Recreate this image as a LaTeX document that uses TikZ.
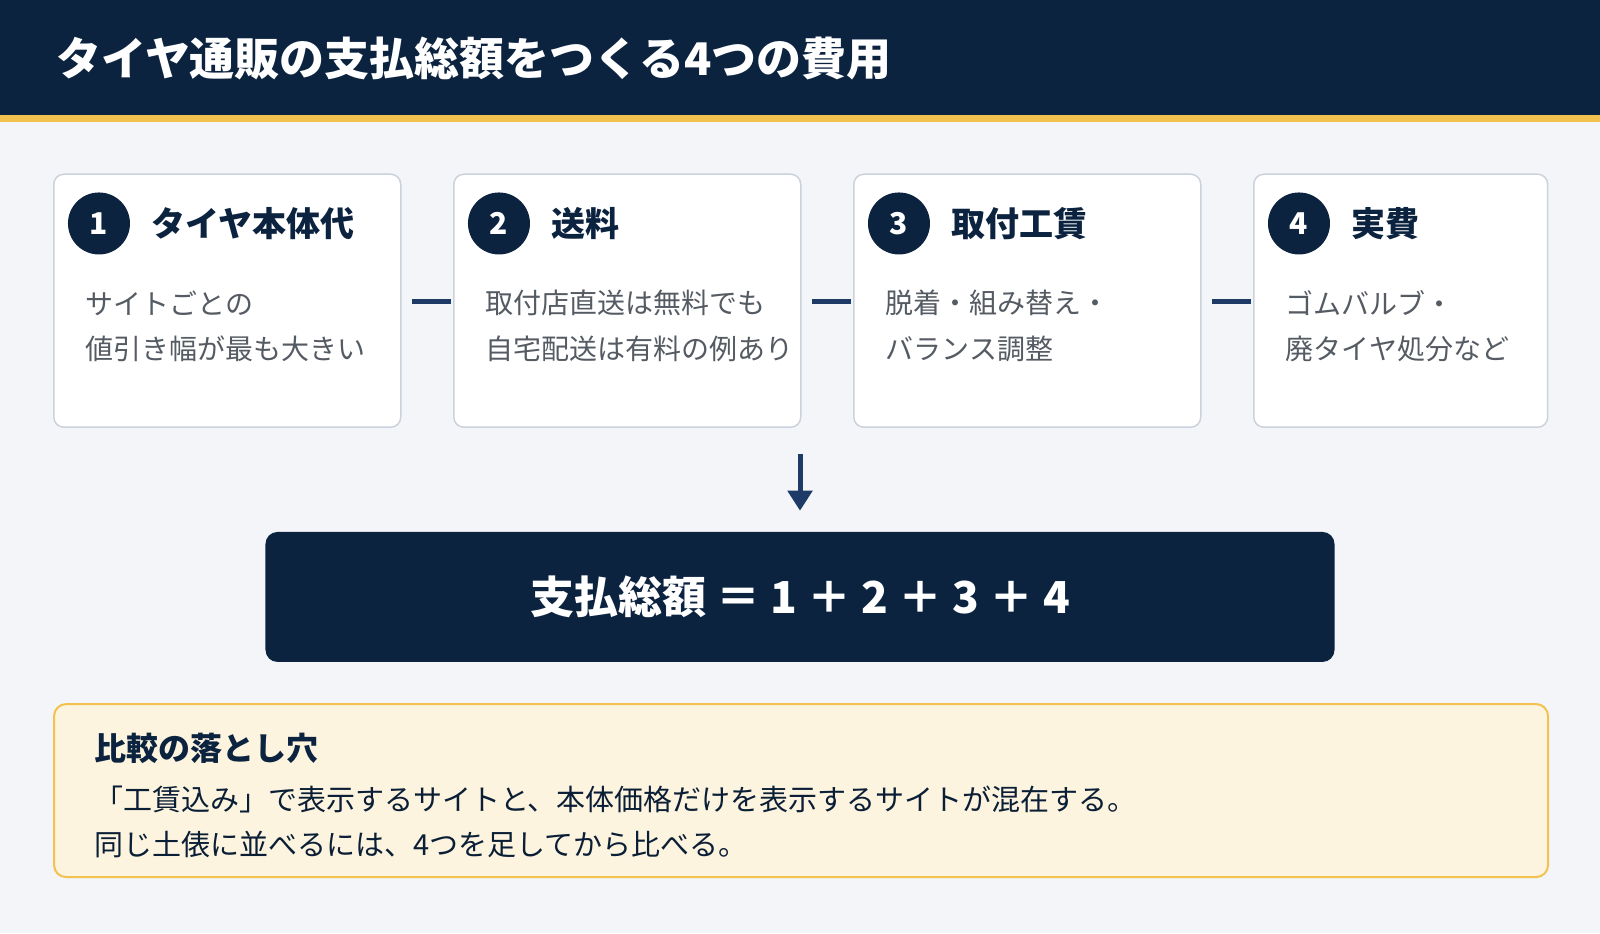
\documentclass[tikz,border=0pt]{standalone}
\usepackage{fontspec}
\setmainfont{Noto Sans CJK JP}
\usetikzlibrary{arrows.meta,positioning}
\definecolor{navy}{HTML}{0C2340}
\definecolor{linkc}{HTML}{1E3A66}
\definecolor{gold}{HTML}{F2C14E}
\definecolor{bgc}{HTML}{F4F5F8}
\definecolor{edge}{HTML}{CBD2DC}
\definecolor{txt}{HTML}{555B63}
\definecolor{cream}{HTML}{FDF4DF}
\tikzset{
  card/.style={draw=edge,line width=1.5pt,fill=white,rounded corners=10pt,anchor=north west,minimum height=248pt,inner sep=0pt},
  num/.style={circle,fill=navy,minimum size=62pt,inner sep=0pt,text=white,font=\fontsize{30}{30}\selectfont\bfseries},
  ctitle/.style={anchor=west,text=navy,font=\fontsize{34}{34}\selectfont\bfseries},
  body/.style={anchor=west,inner sep=0pt,text=txt,font=\fontsize{28}{28}\selectfont},
  note/.style={anchor=west,inner sep=0pt,text=navy!85!black,font=\fontsize{29}{29}\selectfont},
  link/.style={linkc,line width=5pt,shorten <=10pt,shorten >=2pt}
}
\begin{document}
\begin{tikzpicture}[x=1.0204pt,y=-1.0204pt]
\useasboundingbox (0,0) rectangle (1568,914.4);
\fill[bgc] (0,0) rectangle (1568,914.4);
\fill[navy] (0,0) rectangle (1568,113);
\fill[gold] (0,113) rectangle (1568,120);
\node[anchor=west,inner sep=0pt,text=white,font=\fontsize{45}{45}\selectfont\bfseries] (title) at (55,57) {タイヤ通販の支払総額をつくる4つの費用};
% cards
\foreach \i/\x/\w/\t/\a/\b in {1/52/340/タイヤ本体代/サイトごとの/値引き幅が最も大きい,
  2/444/340/送料/取付店直送は無料でも/自宅配送は有料の例あり,
  3/836/340/取付工賃/脱着・組み替え・/バランス調整,
  4/1228/288/実費/ゴムバルブ・/廃タイヤ処分など}{
  \node[card,minimum width=\w*1.0204 pt,minimum height=253pt] (c\i) at (\x,170) {};
  \node[num] (n\i) at (\x+45,219) {\i};
  \node[ctitle,inner sep=0pt] (t\i) at (\x+96,219) {\t};
  \node[body] (a\i) at (\x+32,297) {\a};
  \node[body] (b\i) at (\x+32,342) {\b};
}
\foreach \i/\j in {1/2,2/3,3/4}
  \draw[link] ([yshift=-1pt]c\i.east) -- ([yshift=-1pt]c\j.west);
\coordinate (arr) at (784,445);
\node[fill=navy,rounded corners=12pt,minimum width=1069pt,minimum height=130pt,text=white,
  font=\fontsize{44}{44}\selectfont\bfseries] (sum) at (784,585) {支払総額 ＝ 1 ＋ 2 ＋ 3 ＋ 4};
\draw[linkc,line width=5pt,-{Triangle[width=24pt,length=20pt]}] (arr) -- ([yshift=21pt]sum.north);
\node[draw=gold,line width=2pt,fill=cream,rounded corners=12pt,anchor=north west,
  minimum width=1494pt,minimum height=173pt] (note) at (52,689) {};
\node[anchor=west,inner sep=0pt,text=navy,font=\fontsize{32}{32}\selectfont\bfseries] (nt) at (92,733) {比較の落とし穴};
\node[note] (n1) at (92,783) {「工賃込み」で表示するサイトと、本体価格だけを表示するサイトが混在する。};
\node[note] (n2) at (92,828) {同じ土俵に並べるには、4つを足してから比べる。};
\end{tikzpicture}
\end{document}
